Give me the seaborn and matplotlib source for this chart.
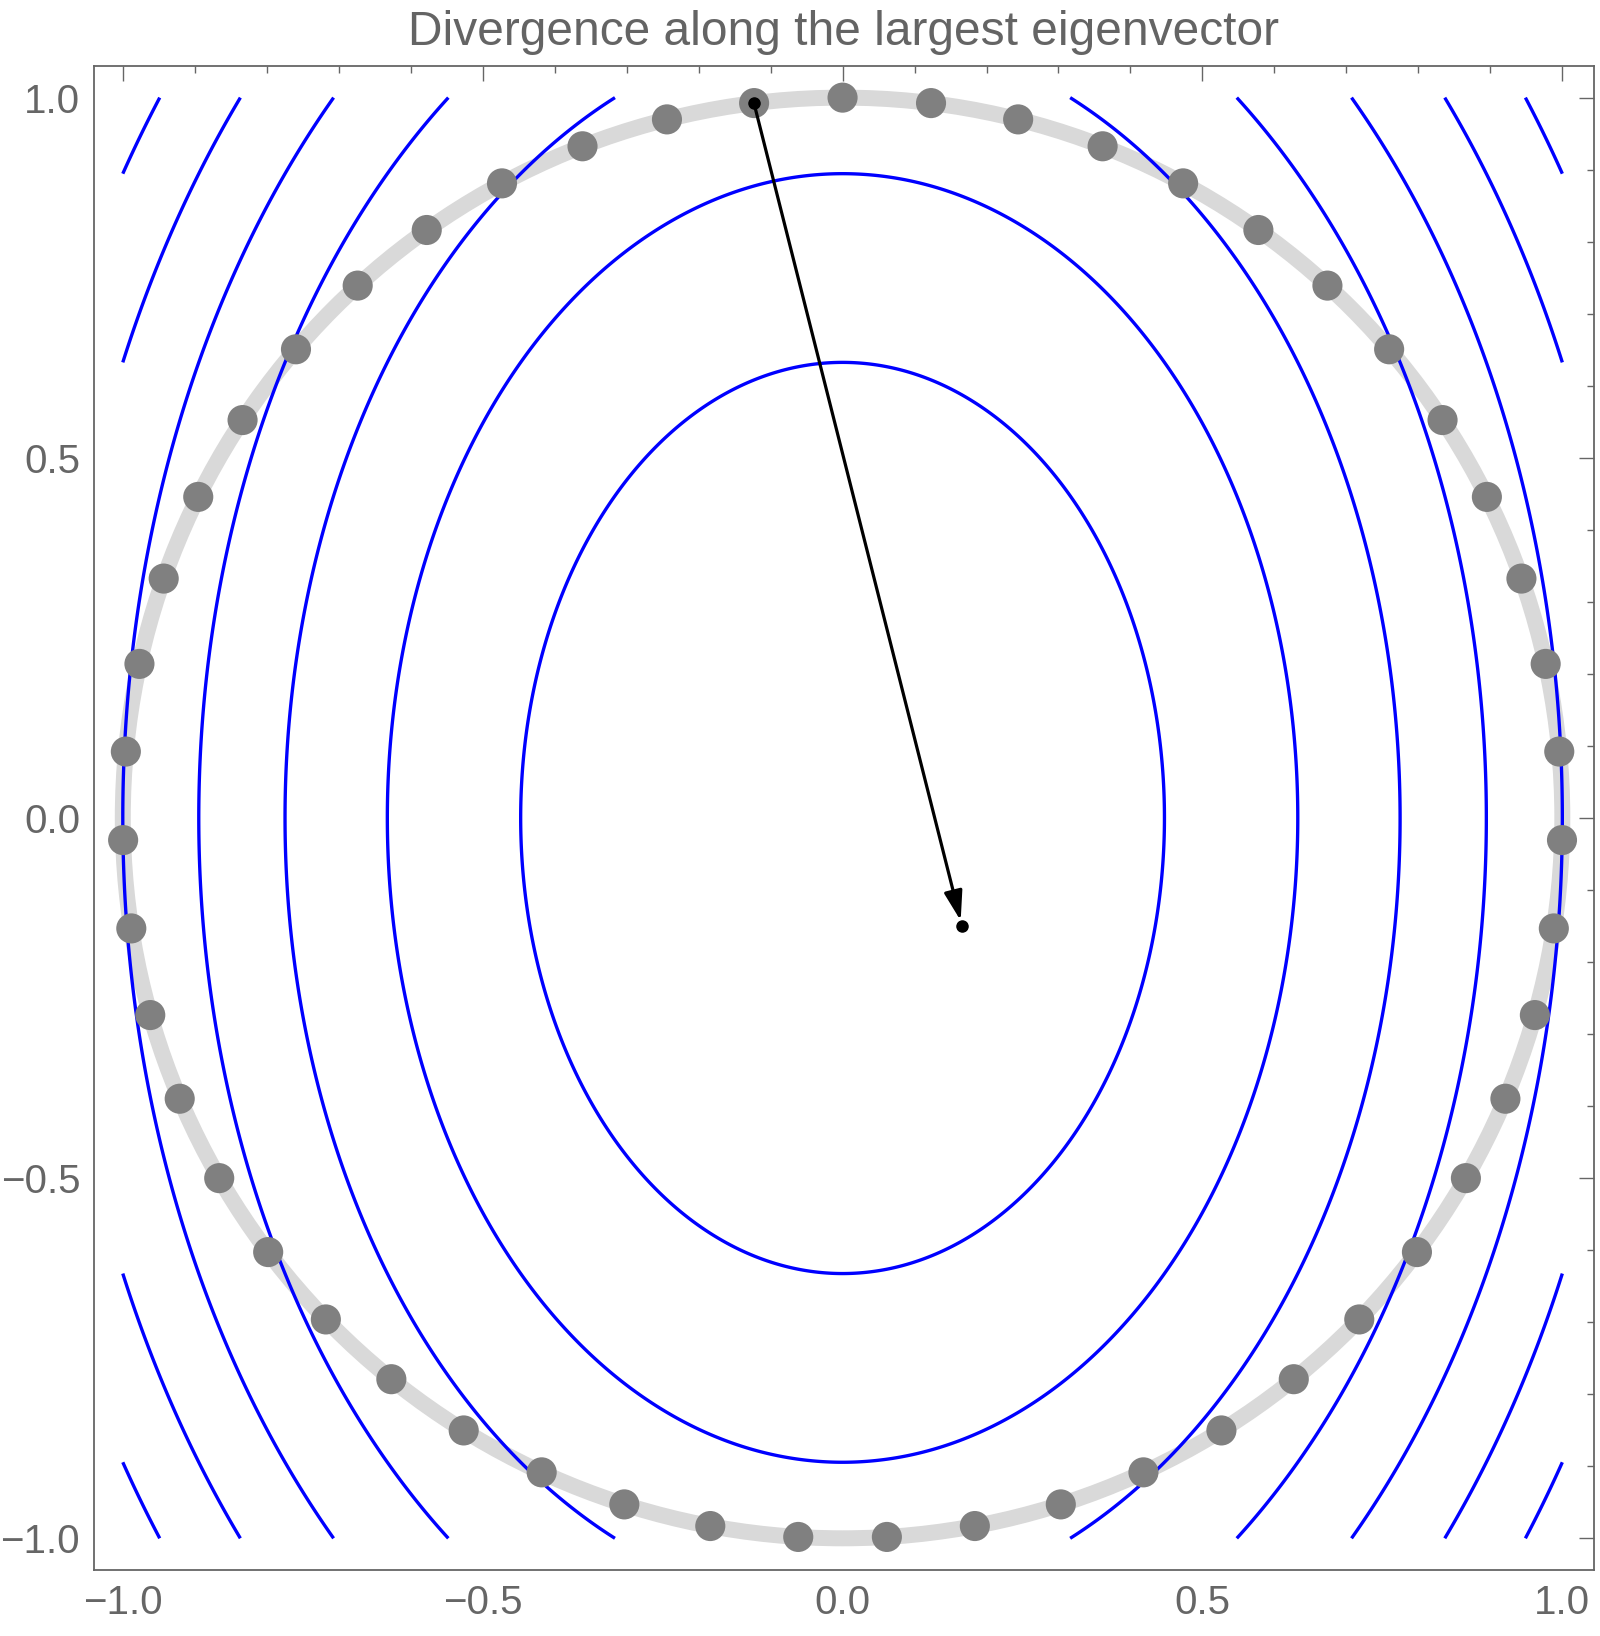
import numpy as np
import pandas as pd
import matplotlib.pyplot as plt
import seaborn as sns
from matplotlib.patches import Circle
from matplotlib.ticker import MultipleLocator

sns.set_theme(style="white")
plt.rcParams['font.family'] = ['Liberation Sans', 'DejaVu Sans']

# Quadratic form f(x, y) = a*x^2 + b*y^2 and the contour levels shown
COEF_X = 1.0
COEF_Y = 0.5
LEVELS = [0.2, 0.4, 0.6, 0.8, 1.0, 1.2, 1.4]

# Sample points on the unit circle (angles in degrees)
CIRCLE_RADIUS = 1.0
POINT_ANGLES = [90.00, 97.06, 104.12, 111.18, 118.24, 125.29, 132.35, 139.41,
                146.47, 153.53, 160.59, 167.65, 174.71, 181.76, 188.82, 195.88,
                202.94, 210.00, 217.06, 224.12, 231.18, 238.24, 245.29, 252.35,
                259.41, 266.47, 273.53, 280.59, 287.65, 294.71, 301.76, 308.82,
                315.88, 322.94, 330.00, 337.06, 344.12, 351.18, 358.24, 5.29,
                12.35, 19.41, 26.47, 33.53, 40.59, 47.65, 54.71, 61.76, 68.82,
                75.88, 82.94]

# Arrow: from the selected point to where it is mapped
ARROW_START = (-0.123, 0.992)
ARROW_END = (0.166, -0.150)

TITLE = "Divergence along the largest eigenvector"
GRAY = "#666666"

rad = np.deg2rad(POINT_ANGLES)
pts = pd.DataFrame({"x": CIRCLE_RADIUS * np.cos(rad), "y": CIRCLE_RADIUS * np.sin(rad)})

fig = plt.figure(figsize=(16, 16.36), dpi=100)
ax = fig.add_axes([0.05875, 0.04034, 0.9375, 0.91936])

# contours of the quadratic form over [-1, 1]^2
g = np.linspace(-1, 1, 801)
X, Y = np.meshgrid(g, g)
Z = COEF_X * X ** 2 + COEF_Y * Y ** 2
ax.contour(X, Y, Z, levels=LEVELS, colors="#0000ff", linewidths=2.4, zorder=3)

# unit circle and the sampled points
ax.add_patch(Circle((0, 0), CIRCLE_RADIUS, fill=False, ec="#d9d9d9", lw=11.5, zorder=2))
sns.scatterplot(data=pts, x="x", y="y", s=470, color="#808080", edgecolor="none",
                zorder=4, ax=ax, legend=False)

# arrow
ax.annotate("", xy=ARROW_END, xytext=ARROW_START,
            arrowprops=dict(arrowstyle="-|>,head_length=0.9,head_width=0.28",
                            color="black", lw=2.3, shrinkA=0, shrinkB=4,
                            mutation_scale=20),
            zorder=5)
ax.plot([ARROW_START[0], ARROW_END[0]], [ARROW_START[1], ARROW_END[1]], "o",
        color="black", ms=8, zorder=6)

ax.set_xlim(-1.04, 1.044)
ax.set_ylim(-1.044, 1.044)
ax.set_xlabel("")
ax.set_ylabel("")

for a in (ax.xaxis, ax.yaxis):
    a.set_major_locator(MultipleLocator(0.5))
    a.set_minor_locator(MultipleLocator(0.1))
ax.tick_params(which="both", direction="in", top=True, right=True,
               color=GRAY, labelcolor=GRAY, width=1.0)
ax.tick_params(which="major", length=11, labelsize=29, pad=10)
ax.tick_params(which="minor", length=5)
for s in ax.spines.values():
    s.set_color(GRAY)
    s.set_linewidth(1.3)

ax.set_title(TITLE, fontsize=34.5, color="#646464", pad=15)

fig.savefig("out.png", dpi=100)
